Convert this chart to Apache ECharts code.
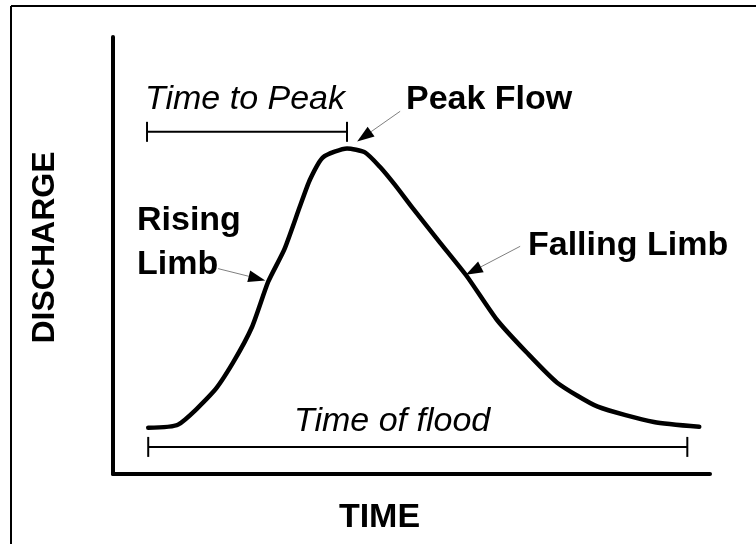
<!DOCTYPE html>
<html>
<head>
<meta charset="utf-8">
<script src="https://cdn.jsdelivr.net/npm/echarts@6/dist/echarts.min.js"></script>
<style>html,body{margin:0;padding:0;background:#fff}#c{width:756px;height:544px}</style>
</head>
<body>
<div id="c"></div>
<script>
// Hydrograph curve (time vs discharge, arbitrary units 0-100)
var times     = [5.9, 10.9, 16.8, 20.1, 23.3, 26.0, 28.7, 31.3, 33.0, 35.2, 39.2, 42.2, 44.7, 47.2, 50.1, 54.8, 59.3, 64.3, 69.3, 74.4, 81.2, 90.6, 98.2];
var discharge = [10.6, 11.3, 18.8, 25.5, 33.7, 44.0, 51.4, 61.2, 67.4, 72.5, 74.5, 73.6, 70.3, 66.2, 61.0, 52.9, 45.2, 35.3, 27.8, 20.9, 15.4, 11.9, 10.8];

// Brackets: [start time, end time, discharge level]
var timeToPeak = [5.7, 39.2, 78.3];
var timeOfFlood = [5.9, 96.2, 6.2];

// Arrows: [fromTime, fromDischarge, toTime, toDischarge]
var peakArrow    = [48.1, 83.0, 40.9, 76.1];
var risingArrow  = [17.6, 47.0, 25.5, 44.3];
var fallingArrow = [68.2, 52.1, 59.1, 45.6];

var curveData = times.map(function (t, i) { return [t, discharge[i]]; });

var FONT = '"Liberation Sans", Arial, Helvetica, sans-serif';

var chart = echarts.init(document.getElementById('c'), null, {renderer: 'canvas'});

function renderBracket(params, api) {
  var a = api.coord([api.value(0), api.value(2)]);
  var b = api.coord([api.value(1), api.value(2)]);
  var h = 10;
  var st = {stroke: '#000', lineWidth: 2};
  return {
    type: 'group',
    children: [
      {type: 'line', shape: {x1: a[0], y1: a[1], x2: b[0], y2: b[1]}, style: st},
      {type: 'line', shape: {x1: a[0], y1: a[1] - h, x2: a[0], y2: a[1] + h}, style: st},
      {type: 'line', shape: {x1: b[0], y1: b[1] - h, x2: b[0], y2: b[1] + h}, style: st}
    ]
  };
}

function renderArrow(params, api) {
  var p1 = api.coord([api.value(0), api.value(1)]);
  var p2 = api.coord([api.value(2), api.value(3)]);
  var dx = p2[0] - p1[0], dy = p2[1] - p1[1];
  var len = Math.sqrt(dx * dx + dy * dy);
  var ux = dx / len, uy = dy / len;
  var L = 17, W = 6;
  var bx = p2[0] - ux * L, by = p2[1] - uy * L;
  return {
    type: 'group',
    children: [
      {type: 'line', shape: {x1: p1[0], y1: p1[1], x2: bx, y2: by}, style: {stroke: '#808080', lineWidth: 1}},
      {type: 'polygon', shape: {points: [[p2[0], p2[1]], [bx - uy * W, by + ux * W], [bx + uy * W, by - ux * W]]}, style: {fill: '#000'}}
    ]
  };
}

function txt(text, x, y, font) {
  return {type: 'text', x: x, y: y, style: {text: text, font: font, fill: '#000', align: 'left', verticalAlign: 'middle'}};
}

chart.setOption({
  animation: false,
  backgroundColor: '#fff',
  grid: {left: 113, right: 46, top: 37, bottom: 70},
  xAxis: {
    type: 'value', min: 0, max: 100,
    name: 'TIME', nameLocation: 'middle', nameGap: 27,
    nameTextStyle: {fontFamily: FONT, fontWeight: 'bold', fontSize: 34, color: '#000', padding: [0, 64, 0, 0]},
    axisLine: {show: true, lineStyle: {color: '#000', width: 4, cap: 'round'}},
    axisTick: {show: false}, axisLabel: {show: false}, splitLine: {show: false}
  },
  yAxis: {
    type: 'value', min: 0, max: 100,
    name: 'DISCHARGE', nameLocation: 'middle', nameGap: 52,
    nameTextStyle: {fontFamily: FONT, fontWeight: 'bold', fontSize: 32, color: '#000', padding: [0, 0, 0, 16]},
    axisLine: {show: true, lineStyle: {color: '#000', width: 4, cap: 'round'}},
    axisTick: {show: false}, axisLabel: {show: false}, splitLine: {show: false}
  },
  graphic: [
    {type: 'line', shape: {x1: 11, y1: 6, x2: 760, y2: 6}, style: {stroke: '#000', lineWidth: 2}},
    {type: 'line', shape: {x1: 11, y1: 6, x2: 11, y2: 560}, style: {stroke: '#000', lineWidth: 2}},
    txt('Time to Peak', 145, 100, 'italic 34px ' + FONT),
    txt('Peak Flow', 406, 100, 'bold 34px ' + FONT),
    txt('Rising', 137, 221, 'bold 34px ' + FONT),
    txt('Limb', 137, 265, 'bold 34px ' + FONT),
    txt('Falling Limb', 528, 246, 'bold 34px ' + FONT),
    txt('Time of flood', 294, 422, 'italic 34px ' + FONT)
  ],
  series: [
    {
      type: 'line', data: curveData, smooth: 0.2, symbol: 'none',
      lineStyle: {color: '#000', width: 4.5, cap: 'round', join: 'round'}, z: 3
    },
    {
      type: 'custom', renderItem: renderBracket,
      encode: {x: [0, 1], y: 2},
      data: [timeToPeak, timeOfFlood], z: 2
    },
    {
      type: 'custom', renderItem: renderArrow,
      encode: {x: [0, 2], y: [1, 3]},
      data: [peakArrow, risingArrow, fallingArrow], z: 4
    }
  ]
});
</script>
</body>
</html>
